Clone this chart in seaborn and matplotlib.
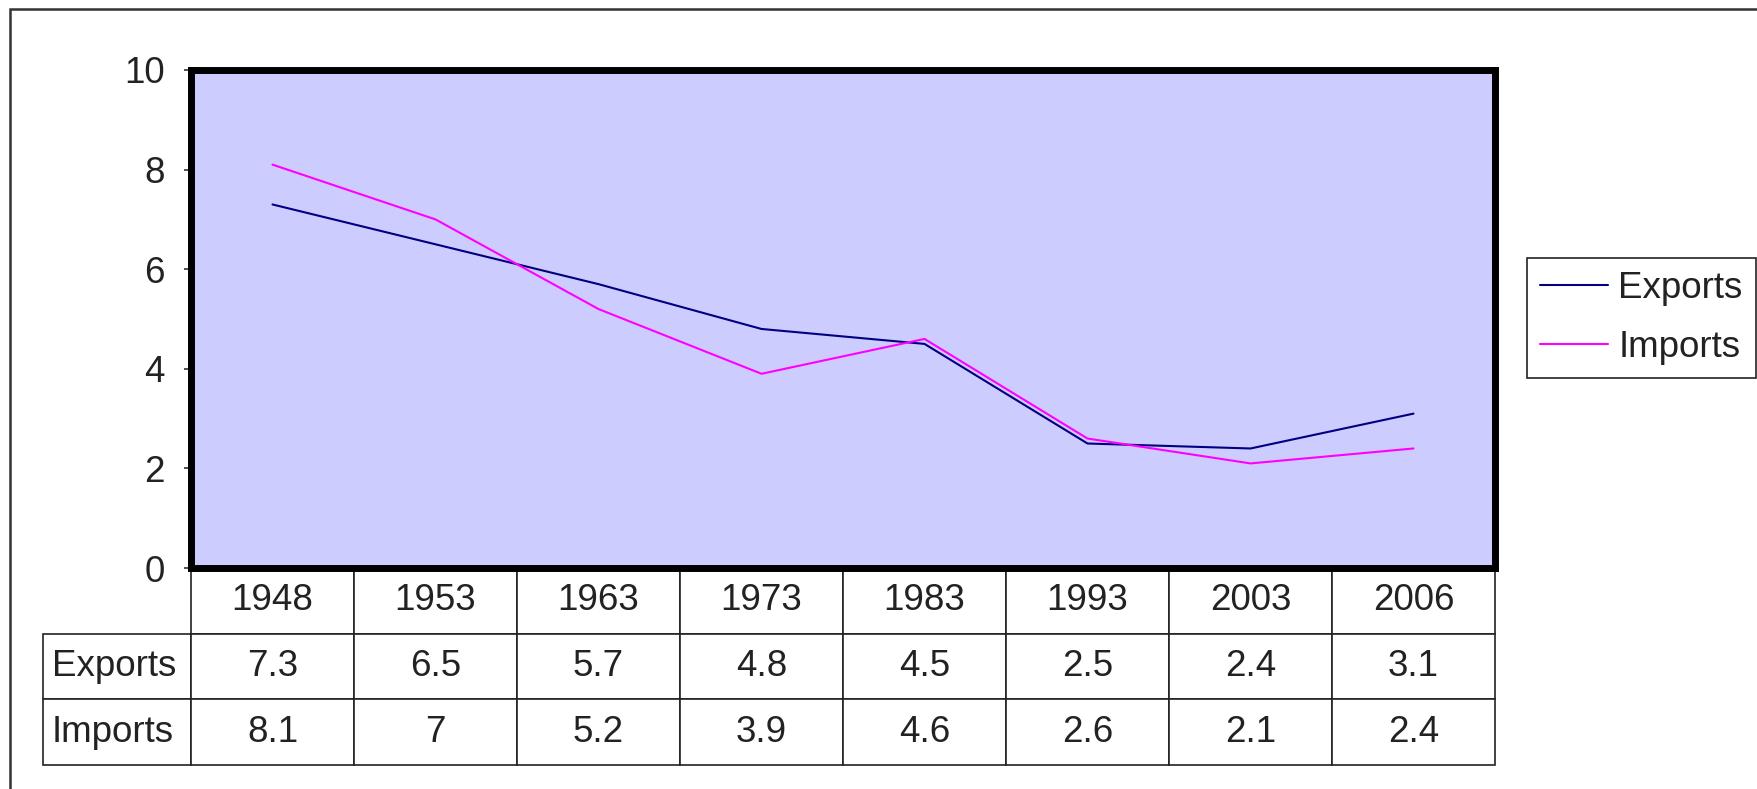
import numpy as np
import pandas as pd
import matplotlib
matplotlib.use("Agg")
import matplotlib.pyplot as plt
import seaborn as sns
from matplotlib.patches import Rectangle

# dados
years = ["1948", "1953", "1963", "1973", "1983", "1993", "2003", "2006"]
exports = [7.3, 6.5, 5.7, 4.8, 4.5, 2.5, 2.4, 3.1]
imports = [8.1, 7, 5.2, 3.9, 4.6, 2.6, 2.1, 2.4]
series_names = ["Exports", "Imports"]
colors = {"Exports": "#000080", "Imports": "#FF00FF"}

df = pd.DataFrame({
    "Year": years * 2,
    "Value": exports + imports,
    "Series": ["Exports"] * len(years) + ["Imports"] * len(years),
})

sns.set_style("white")
plt.rcParams["font.family"] = ["Liberation Sans", "DejaVu Sans"]

FS = 26.5
W, H = 1758, 789
fig = plt.figure(figsize=(W / 100, H / 100), dpi=100)
left, right, top, bottom = 191, 1495, 70, 568
ax = fig.add_axes([left / W, 1 - bottom / H, (right - left) / W, (bottom - top) / H])
ax.set_facecolor("#CCCCFF")

sns.lineplot(data=df, x="Year", y="Value", hue="Series", palette=colors,
             linewidth=1.5, ax=ax, legend=False, sort=False)

ax.set_xlim(-0.5, len(years) - 0.5)
ax.set_ylim(0, 10)
ax.set_yticks([0, 2, 4, 6, 8, 10])
ax.set_xticks([])
ax.set_xlabel("")
ax.set_ylabel("")
for s in ax.spines.values():
    s.set_linewidth(5)
    s.set_color("black")
ax.tick_params(axis="y", which="major", left=True, direction="out", length=5,
               width=1.2, color="#333333", pad=14, labelsize=FS, labelcolor="#222222")

# tabela de dados (primeira coluna = nomes das séries)
txt_color = "#222222"
cell_text = [[n] + [f"{v:g}" for v in vals]
             for n, vals in zip(series_names, [exports, imports])]
label_w = 148
col_w = 163
total_w = right - left
tbl_h = 197
tbl = ax.table(cellText=cell_text, colLabels=[""] + years,
               colWidths=[label_w / total_w] + [col_w / total_w] * len(years),
               cellLoc="center",
               bbox=[-label_w / total_w, -tbl_h / (bottom - top),
                     (total_w + label_w) / total_w, tbl_h / (bottom - top)])
tbl.auto_set_font_size(False)
for (r, c), cell in tbl.get_celld().items():
    cell.set_linewidth(1.2)
    cell.set_edgecolor("#222222")
    cell.get_text().set_fontsize(FS)
    cell.get_text().set_color(txt_color)
    if c == 0:
        cell.PAD = 0.06
        cell.get_text().set_horizontalalignment("left")
        if r == 0:
            cell.visible_edges = ""

# legenda
handles = [plt.Line2D([], [], color=colors[n], lw=1.5) for n in series_names]
leg = fig.legend(handles, series_names, loc="upper left",
                 bbox_to_anchor=(1527 / W, 1 - 258 / H), borderaxespad=0,
                 fontsize=FS, frameon=True, fancybox=False, framealpha=1,
                 edgecolor="#222222", handlelength=1.85, handletextpad=0.28,
                 borderpad=0.35, labelspacing=0.65)
leg.get_frame().set_linewidth(1.2)
for t in leg.get_texts():
    t.set_color(txt_color)

# moldura externa
fig.patches.append(Rectangle((10 / W, -0.1), 1.2, 1.1 - 9 / H,
                             transform=fig.transFigure, fill=False,
                             edgecolor="#333333", linewidth=1.8))

fig.savefig("out.png", dpi=100)
